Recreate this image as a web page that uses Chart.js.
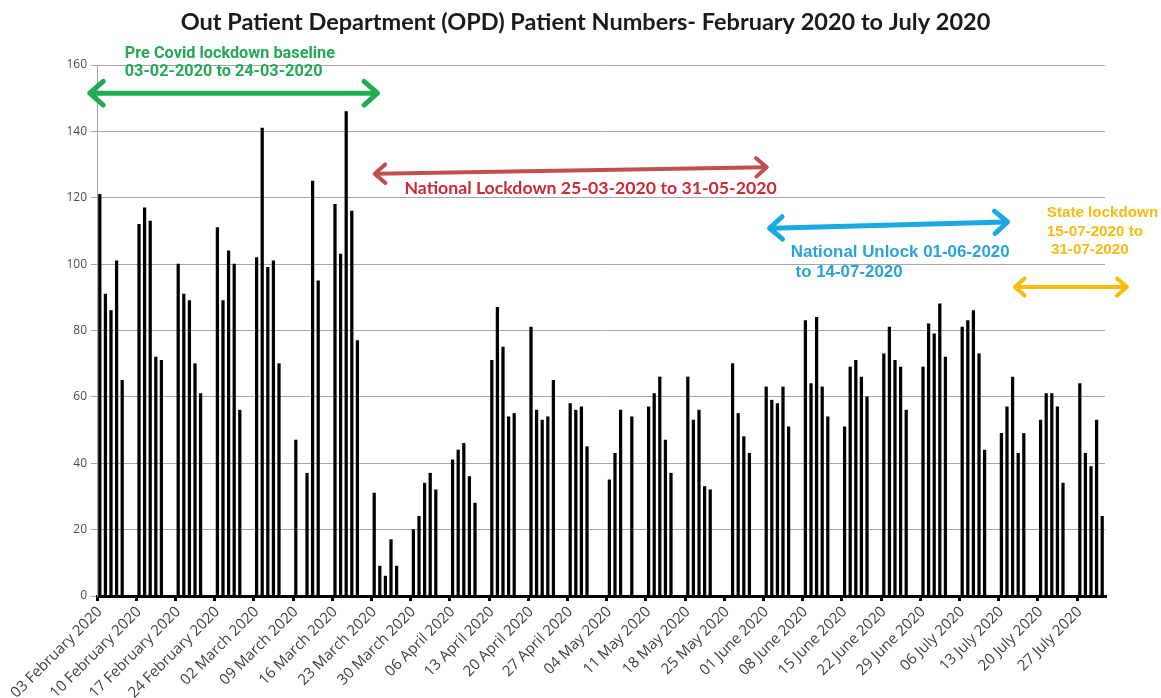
<!DOCTYPE html>
<html><head><meta charset="utf-8">
<script src="https://cdn.jsdelivr.net/npm/chart.js@4.4.1/dist/chart.umd.min.js"></script>
<style>html,body{margin:0;padding:0;background:#fff;}#wrap{width:1161px;height:698px;}</style>
</head><body><div id="wrap"><canvas id="c" width="1161" height="698"></canvas></div>
<script>
// Weekly tick labels (every Monday)
const weekLabels = ['03 February 2020','10 February 2020','17 February 2020','24 February 2020','02 March 2020','09 March 2020','16 March 2020','23 March 2020','30 March 2020','06 April 2020','13 April 2020','20 April 2020','27 April 2020','04 May 2020','11 May 2020','18 May 2020','25 May 2020','01 June 2020','08 June 2020','15 June 2020','22 June 2020','29 June 2020','06 July 2020','13 July 2020','20 July 2020','27 July 2020'];

// Daily OPD patient numbers, 03 Feb 2020 .. 31 Jul 2020 (Mon..Sun per row)
const patients = [
 121,91,86,101,65,0,0,
 112,117,113,72,71,0,0,
 100,91,89,70,61,0,0,
 111,89,104,100,56,0,0,
 102,141,99,101,70,0,0,
 47,0,37,125,95,0,0,
 118,103,146,116,77,0,0,
 31,9,6,17,9,0,0,
 20,24,34,37,32,0,0,
 41,44,46,36,28,0,0,
 71,87,75,54,55,0,0,
 81,56,53,54,65,0,0,
 58,56,57,45,0,0,0,
 35,43,56,0,54,0,0,
 57,61,66,47,37,0,0,
 66,53,56,33,32,0,0,
 0,70,55,48,43,0,0,
 63,59,58,63,51,0,0,
 83,64,84,63,54,0,0,
 51,69,71,66,60,0,0,
 73,81,71,69,56,0,0,
 69,82,79,88,72,0,0,
 81,83,86,73,44,0,0,
 49,57,66,43,49,0,0,
 53,61,61,57,34,0,0,
 64,43,39,53,24
];

// Daily categories
const monthNames = ['January','February','March','April','May','June','July','August','September','October','November','December'];
const days = [];
for (let i = 0; i < patients.length; i++) {
  const d = new Date(2020, 1, 3 + i);
  days.push(String(d.getDate()).padStart(2,'0') + ' ' + monthNames[d.getMonth()] + ' ' + d.getFullYear());
}

const chartTitle = 'Out Patient Department (OPD) Patient Numbers- February 2020 to July 2020';

// Period annotations (arrows in day-index / patient-value coordinates)
const periodLines = [
  ['Pre Covid lockdown baseline','03-02-2020 to 24-03-2020'],
  ['National Lockdown 25-03-2020 to 31-05-2020'],
  ['National Unlock 01-06-2020',' to 14-07-2020'],
  ['State lockdown','15-07-2020 to',' 31-07-2020']
];
const annot = [
  {from:[-1.8,151.5], to:[49.6,151.5], color:'#1eab52', w:5, head:18, text:{x:4.46, ys:[163.3,157.8], color:'#23a955', font:'bold 16.3px Roboto'}},
  {from:[49.1,127.2], to:[119.1,129.2], color:'#c0504d', w:4, head:14, text:{x:54.4, ys:[122.9], color:'#cc2a36', font:'bold 17.7px Lato'}},
  {from:[119.6,110.8], to:[162.1,112.7], color:'#1aa9e2', w:5, head:17, text:{x:123.4, ys:[103.6,97.6], color:'#2aa3d8', font:'bold 16.9px "Liberation Sans"'}},
  {from:[163.4,93.1], to:[183.4,93.1], color:'#fbbb0d', w:4, head:13, text:{x:169.1, ys:[115.4,109.6,104.2], color:'#f5bb12', font:'bold 15.2px "Liberation Sans"'}}
];

function drawArrow(ctx, x1, y1, x2, y2, color, w, head) {
  const ang = Math.atan2(y2 - y1, x2 - x1);
  const a = 0.72;
  ctx.save();
  ctx.strokeStyle = color; ctx.lineWidth = w; ctx.lineCap = 'round'; ctx.lineJoin = 'round';
  ctx.beginPath(); ctx.moveTo(x1 + 2, y1); ctx.lineTo(x2 - 2, y2); ctx.stroke();
  ctx.beginPath();
  ctx.moveTo(x2 - head * Math.cos(ang - a), y2 - head * Math.sin(ang - a));
  ctx.lineTo(x2, y2);
  ctx.lineTo(x2 - head * Math.cos(ang + a), y2 - head * Math.sin(ang + a));
  ctx.stroke();
  ctx.beginPath();
  ctx.moveTo(x1 + head * Math.cos(ang - a), y1 + head * Math.sin(ang - a));
  ctx.lineTo(x1, y1);
  ctx.lineTo(x1 + head * Math.cos(ang + a), y1 + head * Math.sin(ang + a));
  ctx.stroke();
  ctx.restore();
}

const annotPlugin = {
  id: 'periods',
  afterDraw(chart) {
    const ctx = chart.ctx, xs = chart.scales.x, ys = chart.scales.y;
    // chart title, centred on the full page width
    ctx.save();
    ctx.fillStyle = '#1a1a1a'; ctx.font = 'bold 23.5px Lato';
    ctx.textAlign = 'center'; ctx.textBaseline = 'middle';
    ctx.fillText(chartTitle, chart.width / 2 + 5, 22);
    ctx.restore();
    annot.forEach((a, k) => {
      drawArrow(ctx, xs.getPixelForValue(a.from[0]), ys.getPixelForValue(a.from[1]),
                xs.getPixelForValue(a.to[0]), ys.getPixelForValue(a.to[1]), a.color, a.w, a.head);
      ctx.save();
      ctx.fillStyle = a.text.color; ctx.font = a.text.font;
      ctx.textAlign = 'left'; ctx.textBaseline = 'middle';
      periodLines[k].forEach((line, j) => {
        ctx.fillText(line, xs.getPixelForValue(a.text.x), ys.getPixelForValue(a.text.ys[j]));
      });
      ctx.restore();
    });
  }
};

new Chart(document.getElementById('c'), {
  type: 'bar',
  data: {
    labels: days,
    datasets: [{ data: patients, backgroundColor: '#000', borderWidth: 0, barThickness: 2.6 }]
  },
  options: {
    responsive: false,
    animation: false,
    layout: { padding: { left: 0, right: 56, top: 65, bottom: 0 } },
    plugins: {
      legend: { display: false },
      tooltip: { enabled: false },
      title: { display: false }
    },
    scales: {
      x: {
        offset: true,
        grid: { display: true, drawOnChartArea: false, drawTicks: true, tickLength: 5, lineWidth: 3, offset: true,
                tickColor: (c) => (c.index % 7 === 0 ? '#000' : 'rgba(0,0,0,0)') },
        border: { display: true, color: '#000', width: 3 },
        ticks: {
          autoSkip: false, maxRotation: 45, minRotation: 45, padding: 2,
          color: '#404040', font: { family: 'Open Sans', size: 15 },
          callback: (v, i) => (i % 7 === 0 ? weekLabels[i / 7] : '')
        },
        afterFit: (s) => { s.height = 102; s.paddingLeft = 0; s.paddingRight = 0; }
      },
      y: {
        min: 0, max: 160,
        grid: { color: '#a6a6a6', lineWidth: 1, tickLength: 6, tickColor: '#a6a6a6' },
        border: { display: true, color: '#a6a6a6', width: 1 },
        ticks: { stepSize: 20, padding: 4, color: '#4d4d4d', font: { family: 'Open Sans', size: 12 } },
        afterFit: (s) => { s.width = 97; s.paddingTop = 0; s.paddingBottom = 0; }
      }
    }
  },
  plugins: [annotPlugin]
});
</script></body></html>
